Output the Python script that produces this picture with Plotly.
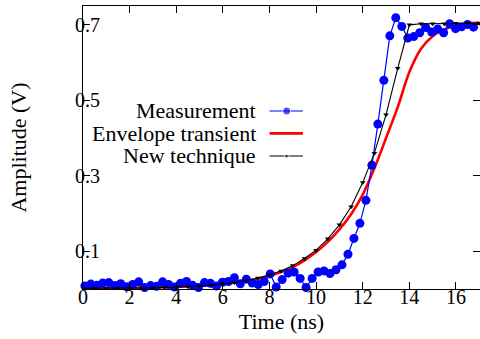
import numpy as np
import plotly.graph_objects as go

# ---- data ----
t_meas = np.round(0.08 + 0.2565 * np.arange(66), 3)
v_meas = [0.008, 0.013, 0.010, 0.016, 0.017, 0.009, 0.014, 0.006, 0.012, 0.019,
          0.004, 0.009, 0.007, 0.019, 0.012, 0.005, 0.015, 0.020, 0.010, 0.004,
          0.017, 0.015, 0.008, 0.018, 0.020, 0.030, 0.014, 0.026, 0.016, 0.012,
          0.020, 0.040, 0.005, 0.025, 0.042, 0.045, 0.028, 0.004, 0.028, 0.045,
          0.048, 0.041, 0.051, 0.064, 0.092, 0.134, 0.174, 0.235, 0.328, 0.437,
          0.553, 0.671, 0.719, 0.696, 0.665, 0.669, 0.679, 0.693, 0.681, 0.689,
          0.679, 0.703, 0.690, 0.695, 0.701, 0.694]

t_model = [0, 0.5, 1, 1.5, 2, 2.5, 3, 3.5, 4, 4.5, 5, 5.5, 6, 6.5, 7, 7.5, 8, 8.5,
           9, 9.5, 10, 10.5, 11, 11.5, 12, 12.5, 13, 13.5, 14, 14.5, 15, 15.5, 16,
           16.5, 17]
v_env = [0.002, 0.002, 0.002, 0.002, 0.003, 0.003, 0.004, 0.005, 0.006, 0.007,
         0.009, 0.011, 0.014, 0.017, 0.021, 0.027, 0.035, 0.045, 0.058, 0.076,
         0.098, 0.125, 0.158, 0.198, 0.250, 0.320, 0.400, 0.482, 0.575, 0.637,
         0.670, 0.688, 0.698, 0.703, 0.706]
v_new = [0.002, 0.002, 0.002, 0.002, 0.002, 0.003, 0.003, 0.004, 0.005, 0.006,
         0.008, 0.010, 0.013, 0.017, 0.022, 0.029, 0.037, 0.048, 0.062, 0.081,
         0.103, 0.133, 0.170, 0.218, 0.282, 0.360, 0.462, 0.585, 0.700, 0.703,
         0.703, 0.703, 0.704, 0.704, 0.704]

x_ticks = [0, 2, 4, 6, 8, 10, 12, 14, 16]
y_ticks = [0.1, 0.3, 0.5, 0.7]
y_ticklabels = ["0.1", "0.3", "0.5", "0.7"]
legend_names = ["Measurement", "Envelope transient", "New technique"]

BLUE = "#0000ff"
RED = "#ff0000"
BLACK = "#000000"
FONT = "Liberation Serif"

fig = go.Figure()
fig.add_trace(go.Scatter(x=t_model, y=v_env, mode="lines", line=dict(color=RED, width=2.6, shape="spline"),
                         showlegend=False))
fig.add_trace(go.Scatter(x=t_meas, y=v_meas, mode="lines+markers", cliponaxis=False,
                         line=dict(color=BLUE, width=1.2),
                         marker=dict(color=BLUE, size=9, symbol="circle"), showlegend=False))
fig.add_trace(go.Scatter(x=t_model, y=v_new, mode="lines+markers",
                         line=dict(color=BLACK, width=1.1),
                         marker=dict(color=BLACK, size=5, symbol="triangle-down"), showlegend=False))

# manual legend (symbols to the right of the text)
leg_y = [0.629, 0.550, 0.470]
styles = [dict(mode="lines+markers", line=dict(color=BLUE, width=1.2),
               marker=dict(color=BLUE, size=[0, 8, 0], symbol="circle")),
          dict(mode="lines", line=dict(color=RED, width=2.6)),
          dict(mode="lines+markers", line=dict(color=BLACK, width=1.1),
               marker=dict(color=BLACK, size=[0, 5, 0], symbol="triangle-down"))]
for name, yy, st in zip(legend_names, leg_y, styles):
    fig.add_trace(go.Scatter(x=[0.470, 0.513, 0.554], y=[yy, yy, yy], xaxis="x2", yaxis="y2",
                             showlegend=False, hoverinfo="skip", **st))
    fig.add_annotation(x=0.440, y=yy, xref="paper", yref="paper", text=name, showarrow=False,
                       xanchor="right", yanchor="middle", font=dict(family=FONT, size=22, color=BLACK))

axis_common = dict(showline=True, linecolor=BLACK, linewidth=1, mirror="ticks", ticks="inside",
                   ticklen=7, tickcolor=BLACK, showgrid=False, zeroline=False, automargin=False,
                   tickfont=dict(family=FONT, size=20, color=BLACK))
fig.update_layout(
    width=480, height=339,
    margin=dict(l=83, r=0, t=6, b=50),
    paper_bgcolor="white", plot_bgcolor="white",
    showlegend=False,
    xaxis=dict(range=[0, 17.03], tickvals=x_ticks, ticklabelstandoff=-10, **axis_common,
               title=dict(text="Time (ns)", font=dict(family=FONT, size=22, color=BLACK), standoff=6)),
    yaxis=dict(range=[0, 0.75], tickvals=y_ticks, ticktext=y_ticklabels, ticklabelstandoff=-22, **axis_common,
               title=dict(text="Amplitude (V)", font=dict(family=FONT, size=22, color=BLACK), standoff=42)),
    xaxis2=dict(overlaying="x", range=[0, 1], visible=False),
    yaxis2=dict(overlaying="y", range=[0, 1], visible=False),
)
fig.write_html("out.html", config={"displayModeBar": False},
               post_script="document.body.style.margin='0';document.body.style.padding='0';")
